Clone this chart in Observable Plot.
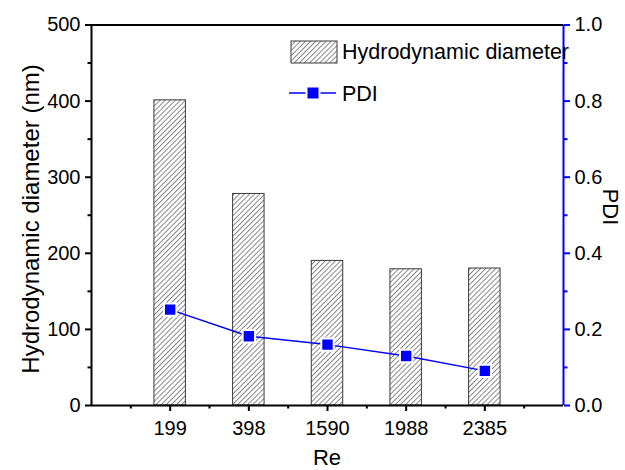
<!DOCTYPE html>
<html><head><meta charset="utf-8">
<script src="https://cdn.jsdelivr.net/npm/d3@7"></script>
<script src="https://cdn.jsdelivr.net/npm/@observablehq/plot@0.6"></script>
<style>body{margin:0;background:#fff}#chart{width:625px;height:470px}</style>
</head><body><div id="chart"></div>
<script>
const categories = ["199", "398", "1590", "1988", "2385"];
const diameter = [401, 278, 190, 179, 180];
const pdi = [0.252, 0.182, 0.160, 0.130, 0.091];
const leftTicks = [0, 100, 200, 300, 400, 500];
const leftMinor = [50, 150, 250, 350, 450];
const rightTicks = [0, 0.2, 0.4, 0.6, 0.8, 1.0];
const rightMinor = [0.1, 0.3, 0.5, 0.7, 0.9];
const seriesNames = ["Hydrodynamic diameter", "PDI"];
const xTitle = "Re", yTitle = "Hydrodynamic diameter (nm)", y2Title = "PDI";

const yMax = 500, pdiMax = 1.0, k = yMax / pdiMax;
const rows = categories.map((c, i) => ({re: c, pos: i + 1, d: diameter[i], p: pdi[i] * k}));
const half = 0.2;
const xMinor = d3.range(categories.length + 1).map(i => i + 0.5);
const FONT = "'Liberation Sans', Arial, sans-serif";
const BLUE = "#0000ff";

const plot = Plot.plot({
  width: 625, height: 470,
  marginLeft: 91, marginRight: 62, marginTop: 24.5, marginBottom: 65,
  style: {fontFamily: FONT, fontSize: "20px", background: "white", color: "black"},
  x: {type: "linear", domain: [0, categories.length + 1], label: null},
  y: {domain: [0, yMax], label: null},
  marks: [
    Plot.rectY(rows, {x1: d => d.pos - half, x2: d => d.pos + half, y1: 0, y2: "d", fill: "url(#hatch)", stroke: "#3a3a3a", strokeWidth: 1}),
    Plot.line(rows, {x: "pos", y: "p", stroke: BLUE, strokeWidth: 1.5}),
    Plot.dot(rows, {x: "pos", y: "p", symbol: "square", r: 7, fill: BLUE, stroke: "white", strokeWidth: 2}),
    Plot.ruleY([0, yMax], {stroke: "black", strokeWidth: 2}),
    Plot.ruleX([0], {stroke: "black", strokeWidth: 2}),
    Plot.ruleX([categories.length + 1], {stroke: BLUE, strokeWidth: 2}),
    Plot.axisX({ticks: rows.map(d => d.pos), tickFormat: v => categories[v - 1], tickSize: 6, tickPadding: 9, strokeWidth: 2, label: null}),
    Plot.axisX({ticks: xMinor, tickFormat: () => "", tickSize: 3.5, strokeWidth: 2, label: null}),
    Plot.axisY({ticks: leftTicks, tickSize: 6, tickPadding: 5, strokeWidth: 2, label: null}),
    Plot.axisY({ticks: leftMinor, tickFormat: () => "", tickSize: 3.5, strokeWidth: 2, label: null}),
    Plot.axisY({anchor: "right", ticks: rightTicks.map(v => v * k), tickFormat: v => (v / k).toFixed(1), tickSize: 6, tickPadding: 5, stroke: BLUE, fill: "black", strokeWidth: 2, label: null}),
    Plot.axisY({anchor: "right", ticks: rightMinor.map(v => v * k), tickFormat: () => "", tickSize: 3.5, stroke: BLUE, strokeWidth: 2, label: null})
  ]
});

const svg = d3.select(plot);
const defs = svg.insert("defs", ":first-child");
const pat = defs.append("pattern").attr("id", "hatch").attr("patternUnits", "userSpaceOnUse")
  .attr("width", 3.6).attr("height", 3.6).attr("patternTransform", "rotate(45)");
pat.append("rect").attr("width", 3.6).attr("height", 3.6).attr("fill", "white");
pat.append("line").attr("x1", 0.5).attr("y1", 0).attr("x2", 0.5).attr("y2", 3.6).attr("stroke", "#6a6a6a").attr("stroke-width", 0.8);

const g = svg.append("g").attr("font-family", FONT).attr("fill", "black").attr("text-anchor", "start");
// legend
g.append("rect").attr("x", 291).attr("y", 41).attr("width", 46).attr("height", 22).attr("fill", "url(#hatch)").attr("stroke", "#3a3a3a");
g.append("text").attr("x", 342).attr("y", 59).attr("text-anchor", "start").attr("font-size", 21.5).text(seriesNames[0]);
g.append("line").attr("x1", 289).attr("x2", 336).attr("y1", 93).attr("y2", 93).attr("stroke", BLUE).attr("stroke-width", 1.5);
g.append("rect").attr("x", 306.5).attr("y", 86.5).attr("width", 13).attr("height", 13).attr("fill", BLUE).attr("stroke", "white").attr("stroke-width", 2);
g.append("text").attr("x", 342).attr("y", 100.5).attr("text-anchor", "start").attr("font-size", 21.5).text(seriesNames[1]);
// titles
g.append("text").attr("transform", "translate(39,219) rotate(-90)").attr("text-anchor", "middle").attr("font-size", 24).text(yTitle);
g.append("text").attr("transform", "translate(603,207) rotate(90)").attr("text-anchor", "middle").attr("font-size", 22).text(y2Title);
g.append("text").attr("x", 327).attr("y", 465).attr("text-anchor", "middle").attr("font-size", 22).text(xTitle);

document.getElementById("chart").appendChild(plot);
</script>
</body></html>
